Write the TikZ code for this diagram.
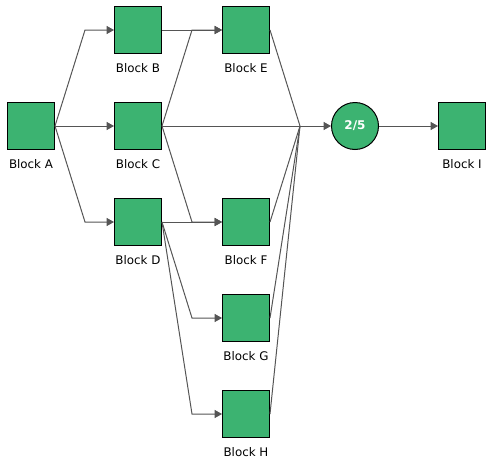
\documentclass[tikz,border=0pt]{standalone}
\usepackage{fontspec}
\setmainfont{DejaVu Sans}
\definecolor{blockgreen}{RGB}{60,179,113}
\definecolor{linegray}{RGB}{85,85,85}
\usetikzlibrary{arrows.meta,positioning,calc}

\begin{document}
\begin{tikzpicture}[x=0.75pt,y=-0.75pt,
  block/.style={draw=black,fill=blockgreen,minimum size=35.25pt,inner sep=0pt,line width=0.75pt,
    label={[lbl]below:#1}},
  lbl/.style={font=\fontsize{8.9}{10}\selectfont,label distance=3.5pt},
  gate/.style={circle,draw=black,fill=blockgreen,minimum size=35.25pt,inner sep=0pt,line width=0.75pt,
    text=white,font=\fontsize{9}{10}\selectfont\bfseries},
  link/.style={linegray,line width=0.75pt},
  arr/.style={link,-{Triangle[length=5.5pt,width=6pt]}}]
  \useasboundingbox (0,0) rectangle (490,461);
  % blocks
  \node[block=Block A] (a) at (31,126) {};
  \node[block=Block B] (b) at (138,30) {};
  \node[block=Block C] (c) at (138,126) {};
  \node[block=Block D] (d) at (138,222) {};
  \node[block=Block E] (e) at (246,30) {};
  \node[block=Block F] (f) at (246,222) {};
  \node[block=Block G] (g) at (246,318) {};
  \node[block=Block H] (h) at (246,414) {};
  \node[gate] (vote) at (355,126) {2/5};
  \node[block=Block I] (i) at (462,126) {};
  \coordinate (join) at ($(vote.west)+(-31,0)$);
  % first level
  \draw[arr] (a.east) -- ($(b.west)+(-29,0)$) -- (b.west);
  \draw[arr] (a.east) -- (c.west);
  \draw[arr] (a.east) -- ($(d.west)+(-29,0)$) -- (d.west);
  % second level
  \draw[arr] (b.east) -- (e.west);
  \draw[arr] (c.east) -- ($(e.west)+(-30,0)$) -- (e.west);
  \draw[arr] (c.east) -- ($(f.west)+(-30,0)$) -- (f.west);
  \draw[arr] (d.east) -- (f.west);
  \draw[arr] (d.east) -- ($(g.west)+(-30,0)$) -- (g.west);
  \draw[arr] (d.east) -- ($(h.west)+(-30,0)$) -- (h.west);
  % voting
  \draw[arr] (c.east) -- (vote.west);
  \foreach \n in {e,f,g,h}
    \draw[link] (\n.east) -- (join);
  \draw[arr] (vote.east) -- (i.west);
\end{tikzpicture}
\end{document}
